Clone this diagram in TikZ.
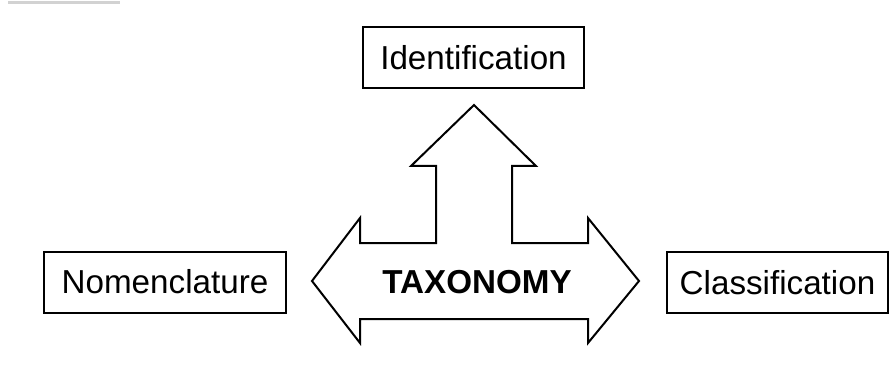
\documentclass[tikz,border=0pt]{standalone}
\usepackage{fontspec}
\setmainfont{Liberation Sans}
\begin{document}
\begin{tikzpicture}[x=0.5pt,y=-0.5pt,
    term/.style={draw,line width=1pt,minimum height=30.5pt,inner xsep=0pt,
      font=\fontsize{16.6}{20}\selectfont}]
  \useasboundingbox (0,0) rectangle (889,369);
  % scan mark top left
  \draw[gray!35,line width=1.5pt] (8,3) -- (120,3);
  % the three branches
  \node[term,minimum width=110.5pt] (ident) at (473.5,57.5) {Identification};
  \node[term,minimum width=121pt] (nomen) at (165,282) {Nomenclature};
  \node[term,minimum width=110.5pt] (class) at (777.5,282.5) {Classification};
  % double arrow with the branch upwards
  \draw[line width=1pt,line join=miter]
    (436,166) -- (411,166) -- (474,105) -- (536,166) -- (512,166)
    -- (512,243) -- (588,243) -- (588,218) -- (639,281) -- (588,343)
    -- (588,319) -- (360,319) -- (360,343) -- (312,281) -- (360,218)
    -- (360,243) -- (436,243) -- cycle;
  \node[font=\fontsize{16.6}{20}\selectfont\bfseries] (taxo) at (477,282) {TAXONOMY};
\end{tikzpicture}
\end{document}
